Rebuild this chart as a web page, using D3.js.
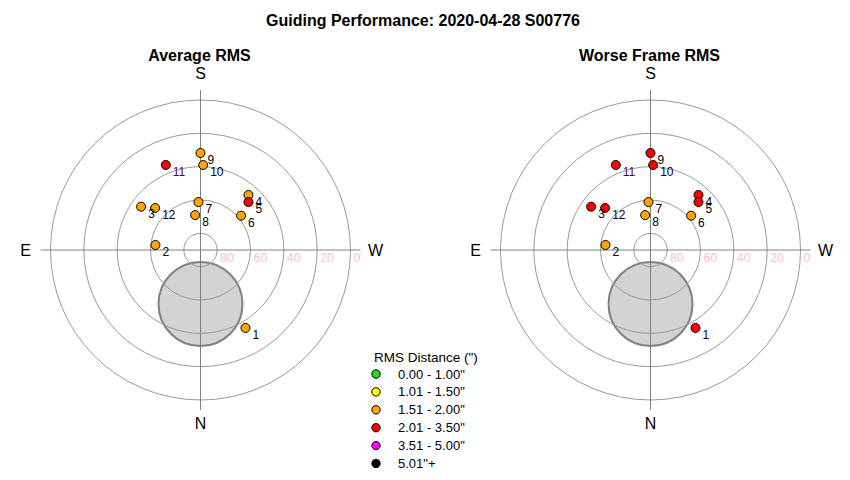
<!DOCTYPE html>
<html>
<head>
<meta charset="utf-8">
<script src="https://cdn.jsdelivr.net/npm/d3@7"></script>
<style>
  body { margin: 0; background: #fff; }
  svg { font-family: "Liberation Sans", Arial, sans-serif; }
</style>
</head>
<body>
<svg id="chart" width="850" height="480"></svg>
<script>
// ---- data ----
const frameIds   = [1, 2, 3, 4, 5, 6, 7, 8, 9, 10, 11, 12];
const altitude   = [36.0, 62.8, 45.9, 46.2, 49.3, 58.1, 61.2, 68.8, 31.8, 39.0, 34.9, 52.9];
const azimuth    = [330.0, 96.3, 126.1, 221.1, 225.0, 229.8, 177.6, 171.3, 180.0, 181.8, 157.8, 132.8];
const avgRms     = [1.85, 1.70, 1.90, 1.95, 2.20, 1.65, 1.60, 1.70, 1.90, 1.95, 2.30, 1.90];
const worstRms   = [2.40, 1.90, 2.50, 2.60, 2.70, 1.95, 1.85, 1.90, 2.40, 2.50, 2.90, 2.40];
const moonAlt    = 57.6;
const moonAz     = 0;
const moonRadiusDeg = 25.2;
const ringAlts   = [80, 60, 40, 20, 0];
const legendLabels = ["0.00 - 1.00\"", "1.01 - 1.50\"", "1.51 - 2.00\"", "2.01 - 3.50\"", "3.51 - 5.00\"", "5.01\"+"];
const legendColors = ["#22dd22", "#ffff00", "#ffa500", "#ff0000", "#ff00ff", "#000000"];
const panelTitles  = ["Average RMS", "Worse Frame RMS"];
const chartTitle   = "Guiding Performance: 2020-04-28 S00776";

// ---- drawing ----
const svg = d3.select("#chart");
const R = 150;
const zen = d3.scaleLinear().domain([0, 90]).range([0, R]);
const colorFor = d3.scaleThreshold()
  .domain([1.005, 1.505, 2.005, 3.505, 5.005])
  .range(legendColors);

function project(alt, az) {
  const r = zen(90 - alt);
  const a = az * Math.PI / 180;
  return [-r * Math.sin(a), r * Math.cos(a)];
}

svg.append("text")
  .attr("x", 423).attr("y", 25.5)
  .attr("text-anchor", "middle")
  .attr("font-size", 16).attr("font-weight", "bold")
  .text(chartTitle);

const centers = [[200.5, 250], [650.5, 250]];
const series = [avgRms, worstRms];

centers.forEach((c, pi) => {
  const g = svg.append("g").attr("transform", `translate(${c[0]},${c[1]})`);

  svg.append("text")
    .attr("x", c[0] - 1).attr("y", 61)
    .attr("text-anchor", "middle")
    .attr("font-size", 16).attr("font-weight", "bold")
    .text(panelTitles[pi]);

  // moon
  const mp = project(moonAlt, moonAz);
  g.append("circle")
    .attr("cx", mp[0]).attr("cy", mp[1])
    .attr("r", zen(moonRadiusDeg))
    .attr("fill", "#d3d3d3")
    .attr("stroke", "#808080").attr("stroke-width", 2);

  // rings
  g.selectAll("circle.ring").data(ringAlts).enter().append("circle")
    .attr("class", "ring")
    .attr("r", d => zen(90 - d))
    .attr("fill", "none")
    .attr("stroke", "#999").attr("stroke-width", 1);

  // cross
  g.append("line").attr("x1", 0).attr("x2", 0).attr("y1", -160).attr("y2", 160)
    .attr("stroke", "#808080").attr("stroke-width", 1);
  g.append("line").attr("x1", -160).attr("x2", 160).attr("y1", 0).attr("y2", 0)
    .attr("stroke", "#808080").attr("stroke-width", 1);

  // ring labels
  g.selectAll("text.rl").data(ringAlts).enter().append("text")
    .attr("class", "rl")
    .attr("x", d => zen(90 - d) + 3).attr("y", 12)
    .attr("font-size", 12.5).attr("fill", "#ffc0cb")
    .text(d => d);

  // direction labels
  const dirs = [["S", 0, -171], ["N", 0, 179], ["E", -175, 6], ["W", 175, 6]];
  g.selectAll("text.dir").data(dirs).enter().append("text")
    .attr("class", "dir")
    .attr("x", d => d[1]).attr("y", d => d[2])
    .attr("text-anchor", "middle")
    .attr("font-size", 16)
    .text(d => d[0]);

  // points
  const vals = series[pi];
  const pts = frameIds.map((id, i) => ({ id, p: project(altitude[i], azimuth[i]), v: vals[i] }));
  g.selectAll("circle.pt").data(pts).enter().append("circle")
    .attr("class", "pt")
    .attr("cx", d => d.p[0]).attr("cy", d => d.p[1])
    .attr("r", 4.5)
    .attr("fill", d => colorFor(d.v))
    .attr("stroke", "#000").attr("stroke-width", 1);
  g.selectAll("text.pl").data(pts).enter().append("text")
    .attr("class", "pl")
    .attr("x", d => d.p[0] + 7).attr("y", d => d.p[1] + 11)
    .attr("font-size", 12)
    .attr("fill", d => d.id === 11 ? "#4b0066" : "#000")
    .text(d => d.id);
});

// legend
const lg = svg.append("g").attr("transform", "translate(374,361.5)");
lg.append("text").attr("x", 0).attr("y", 0).attr("font-size", 13.5).text("RMS Distance (\")");
const items = lg.selectAll("g.li").data(legendLabels).enter().append("g")
  .attr("class", "li")
  .attr("transform", (d, i) => `translate(0,${12.5 + i * 17.9})`);
items.append("circle").attr("cx", 2).attr("cy", 0).attr("r", 4.2)
  .attr("fill", (d, i) => legendColors[i]).attr("stroke", "#000").attr("stroke-width", 1);
items.append("text").attr("x", 24).attr("y", 4.5).attr("font-size", 13).text(d => d);
</script>
</body>
</html>
